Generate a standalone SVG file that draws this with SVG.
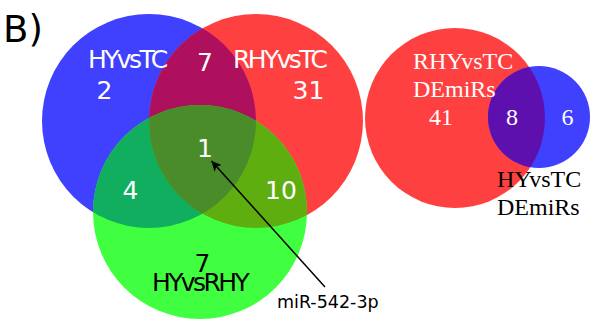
<svg xmlns="http://www.w3.org/2000/svg" width="595" height="329" viewBox="0 0 595 329">
<style>
.lab{font-family:"DejaVu Sans",sans-serif;font-size:25px;letter-spacing:-2.6px}
.num{font-family:"DejaVu Sans",sans-serif;font-size:25px}
.ser{font-family:"Liberation Serif",serif;font-size:24px}
.w{fill:#ffffff}
.k{fill:#000000}
</style>
<defs>
<clipPath id="cB"><circle cx="149" cy="121" r="107"/></clipPath>
<clipPath id="cR"><circle cx="256" cy="121" r="107"/></clipPath>
<clipPath id="cG"><circle cx="200" cy="212" r="107"/></clipPath>
<clipPath id="cR2"><circle cx="455" cy="118" r="90"/></clipPath>
<marker id="ah" viewBox="0 0 10 10" refX="10" refY="5" markerWidth="10" markerHeight="10" markerUnits="userSpaceOnUse" orient="auto">
<path d="M0,0 L10,5 L0,10 L2.5,5 Z" fill="#000"/>
</marker>
</defs>
<rect width="595" height="329" fill="#ffffff"/>
<text x="3" y="42" font-family="DejaVu Sans,sans-serif" font-size="37" fill="#000">B)</text>

<g id="left-venn">
<g id="set-HYvsTC"><circle cx="149" cy="121" r="107" fill="#4040FF"/></g>
<g id="set-RHYvsTC"><circle cx="256" cy="121" r="107" fill="#FF4040"/></g>
<g id="set-HYvsRHY"><circle cx="200" cy="212" r="107" fill="#40FF40"/></g>
<g id="overlaps">
<circle cx="256" cy="121" r="107" fill="#AE105E" clip-path="url(#cB)"/>
<circle cx="200" cy="212" r="107" fill="#10AE5E" clip-path="url(#cB)"/>
<circle cx="200" cy="212" r="107" fill="#5EAE10" clip-path="url(#cR)"/>
<g clip-path="url(#cB)"><circle cx="256" cy="121" r="107" fill="#4A8C2A" clip-path="url(#cG)"/></g>
</g>
<text class="lab w" x="88" y="68">HYvsTC</text>
<text class="lab w" x="233" y="68">RHYvsTC</text>
<text class="num w" x="205" y="71" text-anchor="middle">7</text>
<text class="num w" x="104.5" y="99" text-anchor="middle">2</text>
<text class="num w" x="308.5" y="99" text-anchor="middle">31</text>
<text class="num w" x="205" y="157" text-anchor="middle">1</text>
<text class="num w" x="130.5" y="199" text-anchor="middle">4</text>
<text class="num w" x="281" y="199" text-anchor="middle">10</text>
<text class="num k" x="202.5" y="272" text-anchor="middle">7</text>
<text class="lab k" x="152" y="291">HYvsRHY</text>
</g>

<g id="right-venn">
<g id="set-RHYvsTC-DEmiRs"><circle cx="455" cy="118" r="90" fill="#FF4040"/></g>
<g id="set-HYvsTC-DEmiRs"><circle cx="539" cy="117" r="51" fill="#4040FF"/></g>
<circle cx="539" cy="117" r="51" fill="#5E10AE" clip-path="url(#cR2)"/>
<text class="ser w" x="413" y="69">RHYvsTC</text>
<text class="ser w" x="413" y="97">DEmiRs</text>
<text class="ser w" x="441" y="125" text-anchor="middle">41</text>
<text class="ser w" x="512" y="125" text-anchor="middle">8</text>
<text class="ser w" x="567.5" y="125" text-anchor="middle">6</text>
<text class="ser k" x="497" y="187">HYvsTC</text>
<text class="ser k" x="497" y="215">DEmiRs</text>
</g>

<g id="connectors">
<line x1="325" y1="287" x2="211.5" y2="161" stroke="#000" stroke-width="1.5" marker-end="url(#ah)"/>
</g>
<g id="label-mir"><text x="277" y="308" font-family="DejaVu Sans,sans-serif" font-size="17.5" fill="#000">miR-542-3p</text></g>
</svg>
